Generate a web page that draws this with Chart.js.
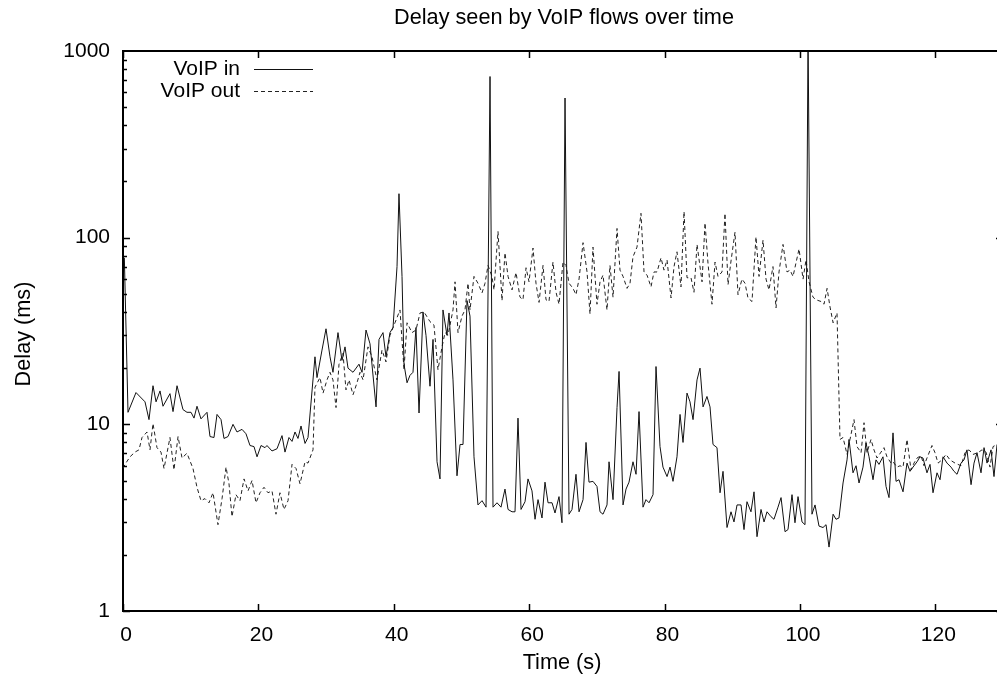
<!DOCTYPE html>
<html><head><meta charset="utf-8">
<script src="https://cdn.jsdelivr.net/npm/chart.js@4"></script>
<style>
html,body{margin:0;padding:0;background:#fff;overflow:hidden;width:997px;height:684px}
#wrap{position:relative;width:1003px;height:684px}
</style>
</head><body><div id="wrap"><canvas id="c" width="1003" height="684"></canvas></div>
<script>
const chartTitle = 'Delay seen by VoIP flows over time';
const xTitle = 'Time (s)';
const yTitle = 'Delay (ms)';
const seriesNames = ['VoIP in', 'VoIP out'];
const xTicks = [0, 20, 40, 60, 80, 100, 120];
const yTicks = [1, 10, 100, 1000];

const tIn = [0.2,0.74,1.92,3.25,3.84,4.43,4.88,5.47,5.91,6.94,7.39,7.98,8.86,9.45,10.05,10.49,10.93,11.52,12.41,12.85,13.44,13.89,14.48,14.92,15.51,16.25,16.84,17.58,18.17,18.76,19.35,19.80,20.39,20.98,21.27,22.01,22.75,23.49,23.93,24.52,24.97,25.41,25.85,26.30,26.89,27.33,28.36,28.66,29.40,29.99,30.58,31.02,31.76,32.35,32.80,33.24,33.98,34.86,35.31,35.90,36.49,37.38,37.82,38.41,38.85,39.44,39.89,40.48,40.77,41.22,41.51,41.96,42.40,42.84,43.28,43.73,44.32,44.76,45.35,45.80,46.39,46.83,47.27,47.86,48.16,48.75,49.34,49.79,50.23,50.82,51.26,51.85,52.44,53.04,53.63,54.22,54.66,55.25,55.84,56.43,56.88,57.47,57.91,58.35,58.80,59.39,59.83,60.42,60.87,61.31,61.90,62.34,62.79,63.38,63.82,64.41,64.85,65.30,65.89,66.33,66.92,67.37,67.96,68.40,68.84,69.43,70.02,70.47,70.91,71.50,71.80,72.39,72.98,73.28,73.87,74.31,74.75,75.34,75.79,76.23,76.82,77.26,77.71,78.30,78.74,79.33,79.77,80.37,80.81,81.25,81.84,82.29,82.73,83.32,83.76,84.21,84.80,85.24,85.69,86.27,86.72,87.16,87.75,88.20,88.64,89.23,89.82,90.26,90.71,91.30,91.74,92.18,92.77,93.22,93.66,94.25,94.70,95.14,95.73,96.17,96.76,97.21,97.80,98.24,98.83,99.27,99.72,100.31,100.75,101.20,101.78,102.23,102.82,103.41,103.86,104.30,104.90,105.33,105.77,106.37,106.96,107.25,107.84,108.29,108.73,109.32,109.76,110.21,110.80,111.24,111.68,112.27,112.72,113.16,113.75,114.20,114.64,115.23,115.82,116.26,116.71,117.30,117.74,118.18,118.77,119.22,119.66,120.25,120.70,121.14,121.73,122.32,122.76,123.21,123.80,124.24,124.68,125.28,125.72,126.16,126.75,127.20,127.64,128.23,128.67,129.12];
const vIn = [78,11.6,14.8,13.2,10.6,16.1,13.2,15.1,12.5,14.6,11.7,16.1,12.0,11.6,11.6,10.8,12.5,10.7,11.6,8.6,8.5,11.3,10.6,8.4,8.6,10.0,9.1,9.4,8.9,7.7,7.6,6.7,7.7,7.5,7.7,7.2,7.4,8.7,7.1,8.5,8.1,9.1,8.4,9.8,7.9,8.5,23,17.8,25,32.5,23,19,31,22,26,20,19,21,19,32,27,12.4,28.5,31,23,31,33,70,172,62,21,16.7,18.3,19,33,11.5,40,30,16,28.5,6.3,5.1,41,30,39.5,17.3,5.3,7.8,7.8,46,38,6.7,3.7,3.9,3.6,730,3.6,3.8,3.6,4.5,3.5,3.4,3.4,10.8,3.5,3.85,5.1,4.4,3.1,3.95,3.15,4.9,3.8,3.8,3.35,4.1,2.97,560,3.3,3.5,5.4,3.4,3.95,8.0,4.9,4.95,4.65,3.4,3.3,3.7,6.3,3.95,12.3,19.2,3.7,4.5,4.9,6.3,5.4,11.7,3.6,3.95,3.8,4.2,20.4,7.6,5.9,5.25,5.9,4.95,6.7,11.3,8.0,14.7,13.2,10.6,17.3,20,12.4,14.1,12.4,7.8,7.5,4.3,5.6,2.8,3.4,3.0,3.7,3.7,2.73,3.85,3.4,4.35,2.5,3.5,3.0,3.4,3.2,3.1,3.6,4.05,2.66,2.73,4.2,2.97,4.1,3.0,2.9,1200,3.3,3.7,2.85,2.8,2.9,2.2,3.3,3.1,3.15,4.85,6.45,8.3,5.5,6.0,4.85,5.9,7.95,6.7,5.05,6.45,6.1,6.7,4.65,4.05,9.0,4.95,5.05,4.35,6.2,5.6,5.9,6.3,6.7,6.6,5.5,6.1,4.3,5.5,5.05,6.7,6.2,5.9,5.6,5.4,6.2,6.45,7.3,4.75,6.2,7.05,5.5,7.5,6.2,7.3,5.25,7.8];

const tOut = [0,0.30,1.03,1.77,2.36,2.81,3.55,3.99,4.43,5.02,5.61,6.06,6.94,7.53,8.13,8.72,9.45,10.34,10.93,11.52,12.11,12.70,13.30,14.03,14.63,15.22,15.66,16.10,16.69,17.28,17.88,18.47,19.06,19.65,20.24,20.83,21.42,22.01,22.60,23.19,23.78,24.38,24.97,25.56,26.15,26.89,27.33,28.07,28.36,29.10,29.55,30.14,30.58,31.02,31.47,31.91,32.50,32.94,33.39,33.98,34.57,35.01,35.46,36.19,36.78,37.52,38.26,38.85,39.44,40.18,40.92,41.51,41.96,42.69,43.28,43.88,44.47,45.35,45.94,46.53,47.13,47.57,48.01,48.75,49.05,49.49,50.08,50.52,50.97,51.26,51.85,52.44,53.04,53.48,53.92,54.51,54.81,55.40,55.99,56.43,56.88,57.47,58.06,58.65,59.09,59.54,59.98,60.57,61.01,61.46,62.05,62.49,62.93,63.52,63.97,64.41,65.00,65.44,65.89,66.48,66.92,67.37,67.96,68.55,68.99,69.43,70.02,70.47,70.91,71.50,71.94,72.39,72.98,73.42,73.87,74.46,74.90,75.34,75.93,76.52,76.97,77.41,78.00,78.44,78.89,79.48,79.92,80.37,80.96,81.40,81.84,82.43,82.88,83.32,83.91,84.35,84.80,85.54,85.98,86.42,87.01,87.46,87.90,88.49,88.93,89.38,89.82,90.41,90.85,91.44,91.89,92.33,92.92,93.51,93.96,94.55,94.99,95.43,96.02,96.47,96.91,97.50,98.09,98.54,98.98,99.87,100.46,100.90,101.35,101.93,102.38,103.12,103.56,104.01,104.45,104.90,105.48,105.92,106.37,106.96,107.40,107.99,108.43,109.03,109.47,109.91,110.50,110.94,111.39,111.98,112.42,112.86,113.46,113.75,114.34,114.79,115.23,115.82,116.41,116.85,117.30,117.89,118.33,118.77,119.51,119.95,120.40,120.99,121.58,122.17,122.91,123.80,124.39,124.98,125.57,126.31,126.90,127.49,128.08,128.53,129.12];
const vOut = [5.8,6.1,6.7,7.1,7.3,8.5,9.1,7.3,10.1,7.5,7.1,5.8,8.5,5.7,8.6,6.6,7.0,5.8,4.6,3.9,4.0,3.8,4.3,2.9,4.0,5.9,4.8,3.2,4.2,3.9,5.1,4.4,5.0,3.8,4.3,4.6,4.3,4.4,3.3,4.3,3.5,3.9,6.1,5.8,4.8,6.3,6.2,7.3,15.8,17.8,14.7,17.3,19,17.3,12.3,21,24,15.3,17.3,14.4,16.7,19,17.3,26,23,17.3,25,21.6,30,35,41,19.6,35,31,32,39.5,40,35.5,34,19.6,26,31,30,41,58,31,38,41,57,41,62,57,50.6,57,71,62,52.5,108,46,83,62,52.5,65,48,46.5,69,58,88,57,45,71,46.5,45.5,74,51,44,74,71,57,53.5,49.5,60,94,65.5,39,89,44,58,63,41,71,48,112,67,62,53.5,57,79,89,135,65.5,63,54.5,65.5,65.5,78,67,76,47.5,70,84,54.5,138,61,61,51,92,58,120,73,44,74,62,65.5,135,56,75,107,49.5,60,57,47.5,45.5,101,62,97,60,52.5,70,42,65.5,92,65.5,67,62,87,60,76,58,48,46.5,45.5,44,53.5,42.5,35,39.5,8.3,8.5,6.9,8.3,10.6,7.6,7.05,10.2,7.05,8.3,7.3,6.6,7.1,7.5,6.7,6.2,6.3,5.9,6.0,5.9,8.3,5.7,6.2,6.6,6.8,6.0,6.6,7.7,7.05,6.2,6.45,6.9,6.45,6.2,6.0,7.05,7.3,6.9,7.05,7.3,7.1,5.9,7.6,7.8];

const FONT = '"Liberation Sans", Arial, Helvetica, sans-serif';
const FS = 21;
const FT = 21.7;

const decor = {
  id: 'decor',
  afterDraw(chart) {
    const ctx = chart.ctx, a = chart.chartArea;
    const xs = chart.scales.x, ys = chart.scales.y;
    ctx.save();
    ctx.strokeStyle = '#000';
    ctx.lineWidth = 2;
    ctx.beginPath();
    ctx.moveTo(a.left, a.top); ctx.lineTo(a.right, a.top);
    ctx.moveTo(a.right, a.top); ctx.lineTo(a.right, a.bottom);
    ctx.stroke();
    ctx.lineWidth = 1.5;
    ctx.beginPath();
    xTicks.forEach(v => {
      const p = Math.round(xs.getPixelForValue(v)) + 0.5;
      ctx.moveTo(p, a.bottom); ctx.lineTo(p, a.bottom - 7);
      ctx.moveTo(p, a.top); ctx.lineTo(p, a.top + 7);
    });
    for (let d = 1; d < 1000; d *= 10) {
      for (let m = 1; m < 10; m++) {
        const v = d * m;
        const p = Math.round(ys.getPixelForValue(v)) + 0.5;
        const len = m === 1 ? 7 : 4;
        ctx.moveTo(a.left, p); ctx.lineTo(a.left + len, p);
        ctx.moveTo(a.right, p); ctx.lineTo(a.right - len, p);
      }
    }
    ctx.stroke();

    ctx.fillStyle = '#000';
    ctx.font = FT + 'px ' + FONT;
    ctx.textAlign = 'center';
    ctx.textBaseline = 'middle';
    ctx.fillText(chartTitle, 564, 18);
    ctx.fillText(xTitle, 562, 663);
    ctx.save();
    ctx.translate(24, 334);
    ctx.rotate(-Math.PI / 2);
    ctx.fillText(yTitle, 0, 0);
    ctx.restore();

    // legend
    ctx.font = FS + 'px ' + FONT;
    ctx.textAlign = 'right';
    const ly = [69, 91];
    chart.data.datasets.forEach((ds, i) => {
      ctx.fillText(seriesNames[i], 240, ly[i]);
      ctx.save();
      ctx.lineWidth = 1;
      ctx.strokeStyle = ds.borderColor;
      ctx.setLineDash(ds.borderDash || []);
      ctx.beginPath();
      ctx.moveTo(254, ly[i] + 0.5); ctx.lineTo(313, ly[i] + 0.5);
      ctx.stroke();
      ctx.restore();
    });
    ctx.restore();
  }
};

new Chart(document.getElementById('c'), {
  type: 'line',
  data: {
    datasets: [
      { label: seriesNames[0], data: tIn.map((t, i) => ({ x: t, y: vIn[i] })),
        borderColor: '#111', borderWidth: 1, pointRadius: 0, tension: 0, fill: false },
      { label: seriesNames[1], data: tOut.map((t, i) => ({ x: t, y: vOut[i] })),
        borderColor: '#222', borderWidth: 1, borderDash: [4, 3], pointRadius: 0, tension: 0, fill: false }
    ]
  },
  options: {
    responsive: false,
    animation: false,
    devicePixelRatio: 1,
    layout: { padding: { top: 51, left: 0, right: 0, bottom: 0 } },
    plugins: { legend: { display: false }, title: { display: false }, tooltip: { enabled: false } },
    scales: {
      x: {
        type: 'linear', min: 0, max: 130,
        afterBuildTicks: s => { s.ticks = xTicks.map(v => ({ value: v })); },
        afterFit: s => { s.height = 73; },
        grid: { display: false, drawTicks: false },
        border: { display: true, color: '#000', width: 2 },
        ticks: { color: '#000', font: { family: FONT, size: FS }, padding: 12, labelOffset: 3,
                 maxRotation: 0, autoSkip: false, callback: v => String(v) }
      },
      y: {
        type: 'logarithmic', min: 1, max: 1000,
        afterBuildTicks: s => { s.ticks = yTicks.map(v => ({ value: v })); },
        afterFit: s => { s.width = 123; },
        grid: { display: false, drawTicks: false },
        border: { display: true, color: '#000', width: 2 },
        ticks: { color: '#000', font: { family: FONT, size: FS }, padding: 13, autoSkip: false,
                 callback: v => String(v) }
      }
    }
  },
  plugins: [decor]
});
</script>
</body></html>
